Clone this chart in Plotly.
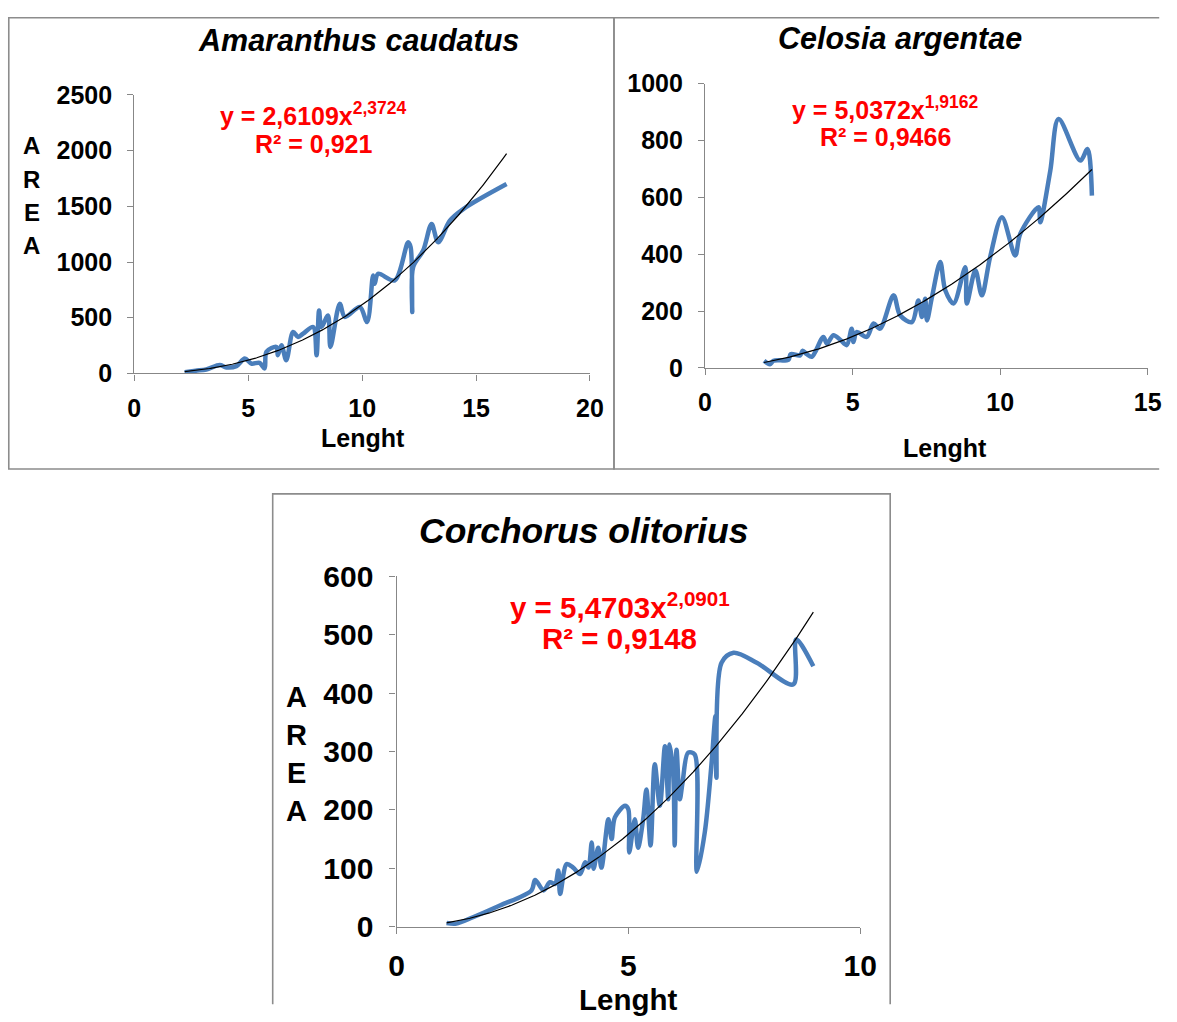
import numpy as np
import plotly.graph_objects as go

# ---------------- data ----------------
amar_len = [2.21, 2.7, 3.16, 3.75, 4.04, 4.48, 4.85, 5.14, 5.5, 5.72, 5.8, 6.24, 6.3, 6.46, 6.67,
            6.97, 7.19, 7.41, 7.85, 8.0, 8.11, 8.21, 8.5, 8.61, 9.02, 9.24, 9.9, 10.22, 10.48,
            10.55, 10.7, 11.43, 12.02, 12.13, 12.2, 12.24, 12.68, 13.05, 13.34, 13.85, 14.44, 16.34]
amar_area = [12, 25, 36, 75, 54, 66, 134, 89, 95, 45, 194, 238, 164, 253, 119,
             372, 328, 357, 417, 164, 566, 417, 520, 238, 626, 507, 596, 462, 879,
             805, 894, 835, 1177, 1132, 551, 954, 1103, 1341, 1177, 1371, 1475, 1699]

celo_len = [2.0, 2.2, 2.32, 2.83, 2.9, 3.22, 3.31, 3.45, 3.62, 4.01, 4.13, 4.35, 4.58, 4.8,
            4.97, 5.03, 5.14, 5.48, 5.71, 5.93, 6.39, 6.61, 7.01, 7.23, 7.35, 7.46, 7.52, 7.69,
            7.97, 8.14, 8.42, 8.82, 8.87, 9.16, 9.38, 9.66, 10.06, 10.51, 10.68, 11.3, 11.36,
            11.7, 11.98, 12.72, 12.96, 13.11]
celo_area = [25, 13, 25, 29, 48, 44, 60, 48, 39, 109, 85, 115, 99, 80,
             138, 91, 126, 109, 156, 138, 255, 185, 161, 237, 179, 243, 167, 249,
             372, 273, 226, 354, 226, 343, 255, 389, 530, 395, 471, 565, 512,
             694, 875, 729, 770, 606]

corc_len = [1.08, 1.29, 1.65, 2.23, 2.91, 2.99, 3.17, 3.31, 3.42, 3.49, 3.53, 3.67, 3.81, 3.96,
            4.07, 4.14, 4.21, 4.25, 4.35, 4.42, 4.57, 4.64, 4.71, 4.93, 5.00, 5.02, 5.14, 5.21,
            5.32, 5.39, 5.48, 5.57, 5.68, 5.79, 5.86, 5.89, 5.97, 6.00, 6.04, 6.11, 6.17, 6.29,
            6.43, 6.48, 6.65, 6.79, 6.88, 6.90, 7.01, 7.27, 7.77, 8.56, 8.62, 8.99]
corc_area = [6, 5, 16, 36, 62, 80, 62, 76, 73, 96, 56, 107, 101, 90,
             110, 101, 144, 99, 135, 101, 184, 150, 187, 207, 201, 127, 184, 135,
             184, 235, 139, 278, 207, 309, 218, 312, 258, 139, 303, 218, 247, 298,
             295, 94, 162, 275, 361, 255, 452, 469, 452, 415, 492, 446]

# power trendline coefficients as printed on the chart (y = a * x^b)
titles = ["Amaranthus caudatus", "Celosia argentae", "Corchorus olitorius"]
trend_a = [2.6109, 5.0372, 5.4703]
trend_b = [2.3724, 1.9162, 2.0901]
trend_a_txt = ["2,6109", "5,0372", "5,4703"]
trend_b_txt = ["2,3724", "1,9162", "2,0901"]
r2_txt = ["0,921", "0,9466", "0,9148"]
x_ranges = [[0, 20], [0, 15], [0, 10]]
y_ranges = [[0, 2500], [0, 1000], [0, 600]]
y_dticks = [500, 200, 100]
x_label = "Lenght"
y_letters = ["A", "R", "E", "A"]

# ---------------- layout helpers ----------------
W, H = 1177, 1022
# the photographed page appears slightly shrunk/offset; map target pixel -> figure pixel
SX, OX, SY, OY = 0.978, 8.5, 0.969, 16.0
def fx(x): return (x - OX) / SX
def fy(y): return (y - OY) / SY
def px(x): return fx(x) / W
def py(y): return 1 - fy(y) / H
def clamp_x(v): return min(max(v, 0.8), W - 0.8)
def clamp_y(v): return min(max(v, 0.8), H - 0.8)

FONT = "Liberation Sans, Arial, sans-serif"
BLUE = "#4A7EBB"
GRAY = "#878787"

# target pixel geometry of each plot area: (x0, x1, y_bottom, y_top)
areas = [(134.7, 590.0, 373.3, 94.0),
         (705.0, 1147.3, 367.7, 82.7),
         (396.7, 860.0, 927.7, 576.7)]
tick_sizes = [25, 25, 30]
title_sizes = [30.5, 30.5, 35.5]
eq_sizes = [25, 25, 29.5]
xlab_sizes = [25, 25, 29.5]

fig = go.Figure()
datasets = [(amar_len, amar_area), (celo_len, celo_area), (corc_len, corc_area)]
layout_axes = {}
for i, (xs, ys) in enumerate(datasets):
    sfx = "" if i == 0 else str(i + 1)
    xa, ya = "x" + sfx, "y" + sfx
    fig.add_trace(go.Scatter(x=xs, y=ys, mode="lines", xaxis=xa, yaxis=ya,
                             line=dict(color=BLUE, width=4.5, shape="spline", smoothing=0.9),
                             showlegend=False, hoverinfo="skip"))
    tx = np.linspace(min(xs), max(xs), 300)
    fig.add_trace(go.Scatter(x=tx, y=trend_a[i] * tx ** trend_b[i], mode="lines",
                             xaxis=xa, yaxis=ya, line=dict(color="black", width=1.2),
                             showlegend=False, hoverinfo="skip"))
    x0, x1, yb, yt = areas[i]
    tf = dict(family=FONT, size=tick_sizes[i], color="black", weight="bold")
    layout_axes["xaxis" + sfx] = dict(domain=[px(x0), px(x1)], range=x_ranges[i], dtick=5,
                                      anchor=ya, showgrid=False, zeroline=False,
                                      showline=True, linecolor=GRAY, linewidth=1.3,
                                      ticks="outside", ticklen=6, tickcolor=GRAY,
                                      tickfont=tf, ticklabelstandoff=6, fixedrange=True)
    layout_axes["yaxis" + sfx] = dict(domain=[py(yb), py(yt)], range=y_ranges[i],
                                      dtick=y_dticks[i], anchor=xa, showgrid=False,
                                      zeroline=False, showline=True, linecolor=GRAY,
                                      linewidth=1.3, ticks="outside", ticklen=6,
                                      tickcolor=GRAY, tickfont=tf, ticklabelstandoff=10,
                                      fixedrange=True)

ann = []
def add_text(x, y, text, size, color="black", italic=False, xanchor="center"):
    ann.append(dict(x=px(x), y=py(y), xref="paper", yref="paper", text=text, showarrow=False,
                    xanchor=xanchor, yanchor="middle",
                    font=dict(family=FONT, size=size, color=color, weight="bold",
                              style="italic" if italic else "normal")))

# titles
add_text(359, 39, titles[0], title_sizes[0], italic=True)
add_text(900, 38, titles[1], title_sizes[1], italic=True)
add_text(584, 531, titles[2], title_sizes[2], italic=True)
# x axis titles
add_text(363, 438, x_label, xlab_sizes[0])
add_text(945, 448, x_label, xlab_sizes[1])
add_text(628, 1001, x_label, xlab_sizes[2])
# y axis titles (stacked letters)
for ch, yy in zip(y_letters, [145, 179, 212, 245]):
    add_text(32, yy, ch, 24)
for ch, yy in zip(y_letters, [698, 736, 774, 812]):
    add_text(297, yy, ch, 29)
# trendline equations
eq_pos = [(314, 113, 143), (885, 107, 136), (620, 606, 639)]
for i, (cx, y1, y2) in enumerate(eq_pos):
    add_text(cx, y1, f"y = {trend_a_txt[i]}x<sup>{trend_b_txt[i]}</sup>", eq_sizes[i], color="#FF0000")
    add_text(cx, y2, f"R² = {r2_txt[i]}", eq_sizes[i], color="#FF0000")

# panel borders (open sides run off the picture edge)
def poly(points, closed):
    d = "M " + " L ".join(f"{clamp_x(fx(a)) / W:.5f},{1 - clamp_y(fy(b)) / H:.5f}" for a, b in points)
    return d + (" Z" if closed else "")
border_paths = [
    poly([(6, 6), (614, 6), (614, 469), (6, 469)], True),
    poly([(1200, 6), (614, 6), (614, 469), (1200, 469)], False),
    poly([(273, 1040), (273, 494), (890, 494), (890, 1040)], False),
]
shapes = [dict(type="path", xref="paper", yref="paper", path=p,
               line=dict(color="#8C8C8C", width=1.6)) for p in border_paths]

fig.update_layout(width=W, height=H, margin=dict(l=0, r=0, t=0, b=0, pad=0),
                  paper_bgcolor="white", plot_bgcolor="white",
                  annotations=ann, shapes=shapes, showlegend=False, **layout_axes)

page_fix = ("var s=document.createElement('style');"
            "s.textContent='html,body{margin:0!important;padding:0!important;overflow:hidden!important;}';"
            "document.head.appendChild(s);")
fig.write_html("out.html", config={"displayModeBar": False}, post_script=page_fix)
